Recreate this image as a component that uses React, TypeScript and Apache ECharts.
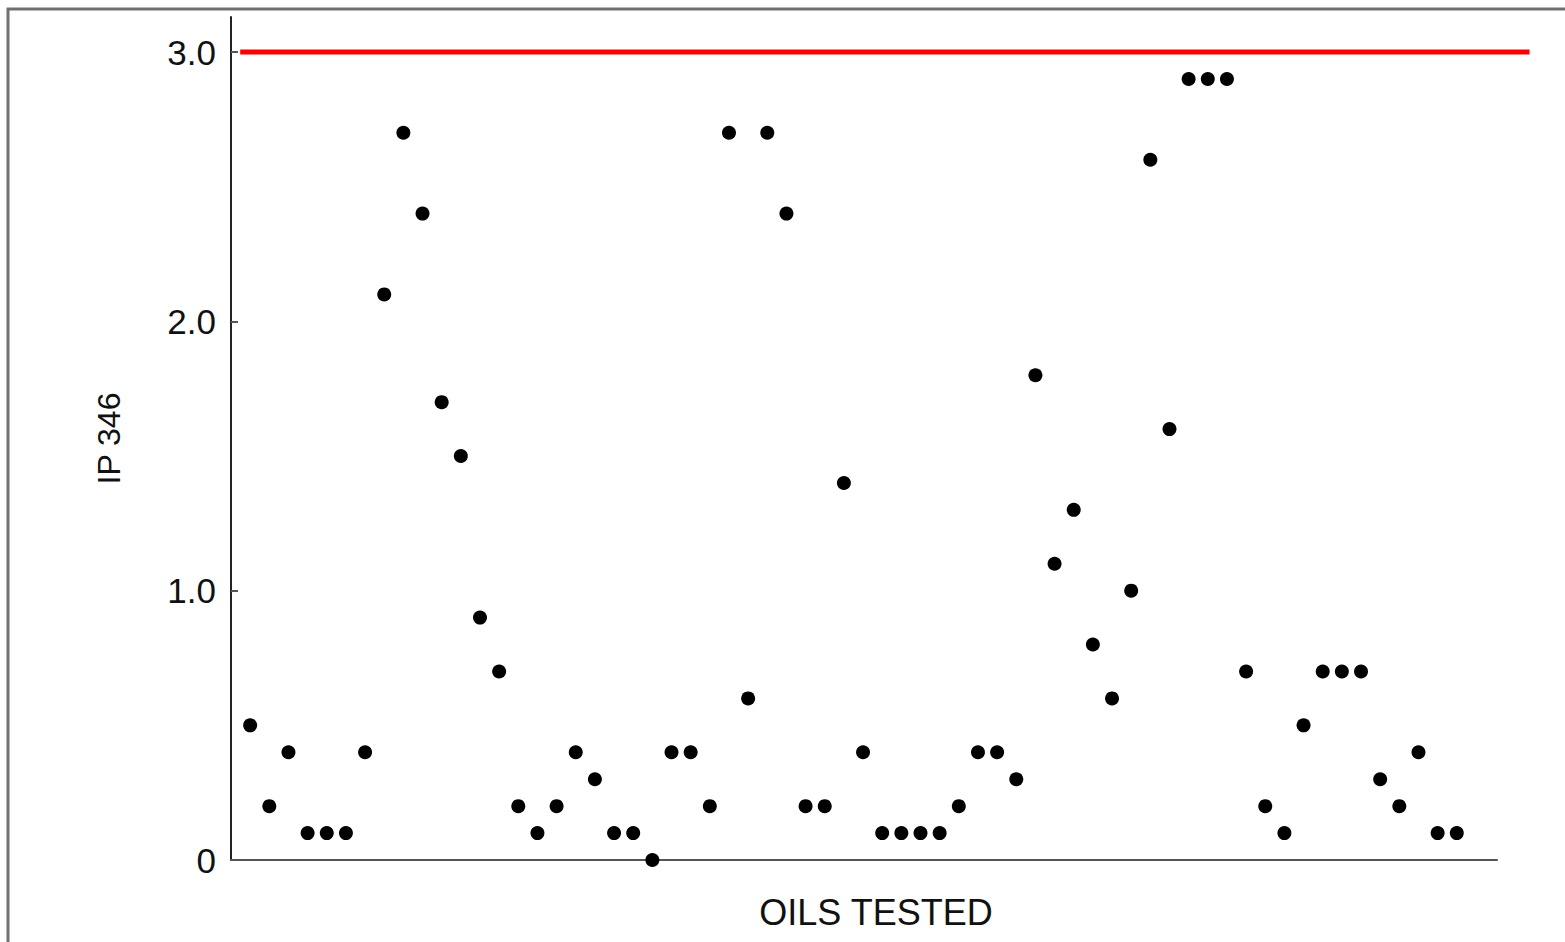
import React, { useEffect, useRef } from "react";
import * as echarts from "echarts";

// IP 346 value for each oil sample, in test order (sample 1..64)
const ip346Values: number[] = [
  0.5, 0.2, 0.4, 0.1, 0.1, 0.1, 0.4, 2.1, 2.7, 2.4,
  1.7, 1.5, 0.9, 0.7, 0.2, 0.1, 0.2, 0.4, 0.3, 0.1,
  0.1, 0.0, 0.4, 0.4, 0.2, 2.7, 0.6, 2.7, 2.4, 0.2,
  0.2, 1.4, 0.4, 0.1, 0.1, 0.1, 0.1, 0.2, 0.4, 0.4,
  0.3, 1.8, 1.1, 1.3, 0.8, 0.6, 1.0, 2.6, 1.6, 2.9,
  2.9, 2.9, 0.7, 0.2, 0.1, 0.5, 0.7, 0.7, 0.7, 0.3,
  0.2, 0.4, 0.1, 0.1,
];

// Limit value drawn as the red reference line (x span in sample units)
const limitValue = 3.0;
const limitSpan: number[] = [0.48, 67.8];

// Y tick positions
const yTicks: number[] = [0, 1, 2, 3];

const xName = "OILS TESTED";
const yName = "IP 346";

export default function App() {
  const ref = useRef<HTMLDivElement>(null);

  useEffect(() => {
    if (!ref.current) return;
    const chart = echarts.init(ref.current, undefined, { renderer: "svg" });
    const font = "'Liberation Sans', Arial, Helvetica, sans-serif";

    chart.setOption({
      animation: false,
      backgroundColor: "#ffffff",
      grid: { left: 231, right: 1565 - 1497, top: 17, bottom: 942 - 860 },
      xAxis: {
        type: "value",
        min: 0,
        max: 66.1,
        name: xName,
        nameLocation: "middle",
        nameGap: 34,
        nameTextStyle: {
          fontFamily: font,
          fontSize: 36,
          color: "#111111",
          padding: [0, 0, 0, 24],
        },
        axisLine: { show: true, lineStyle: { color: "#555555", width: 2 } },
        axisTick: { show: false },
        axisLabel: { show: false },
        splitLine: { show: false },
      },
      yAxis: {
        type: "value",
        min: 0,
        max: 3.13,
        name: yName,
        nameLocation: "middle",
        nameRotate: 90,
        nameGap: 106,
        nameTextStyle: { fontFamily: font, fontSize: 32, color: "#111111" },
        axisLine: { show: true, lineStyle: { color: "#222222", width: 2 } },
        axisTick: {
          show: true,
          inside: true,
          length: 7,
          customValues: yTicks,
          lineStyle: { color: "#555555", width: 2 },
        },
        axisLabel: {
          customValues: yTicks,
          margin: 15,
          fontFamily: font,
          fontSize: 35,
          color: "#111111",
          formatter: (v: number) => (v === 0 ? "0" : v.toFixed(1)),
        },
        splitLine: { show: false },
      },
      series: [
        {
          type: "scatter",
          symbol: "circle",
          symbolSize: 14,
          itemStyle: { color: "#000000", opacity: 1 },
          data: ip346Values.map((v, i) => [i + 1, v]),
          z: 3,
        },
      ],
      graphic: [
        {
          type: "rect",
          shape: { x: 8, y: 9, width: 1700, height: 1100 },
          style: { fill: "none", stroke: "#707070", lineWidth: 3 },
          silent: true,
        },
      ],
    });

    // Red limit line, positioned through the grid's own coordinate system
    const p0 = chart.convertToPixel({ gridIndex: 0 }, [limitSpan[0], limitValue]) as number[];
    const p1 = chart.convertToPixel({ gridIndex: 0 }, [limitSpan[1], limitValue]) as number[];
    chart.setOption({
      graphic: [
        {
          type: "rect",
          shape: { x: 8, y: 9, width: 1700, height: 1100 },
          style: { fill: "none", stroke: "#707070", lineWidth: 3 },
          silent: true,
        },
        {
          type: "line",
          shape: { x1: p0[0], y1: p0[1], x2: p1[0], y2: p1[1] },
          style: { stroke: "#ff0000", lineWidth: 5 },
          z: 2,
          silent: true,
        },
      ],
    });

    return () => chart.dispose();
  }, []);

  return (
    <div
      ref={ref}
      style={{ position: "fixed", left: 0, top: 0, width: 1565, height: 942 }}
    />
  );
}
